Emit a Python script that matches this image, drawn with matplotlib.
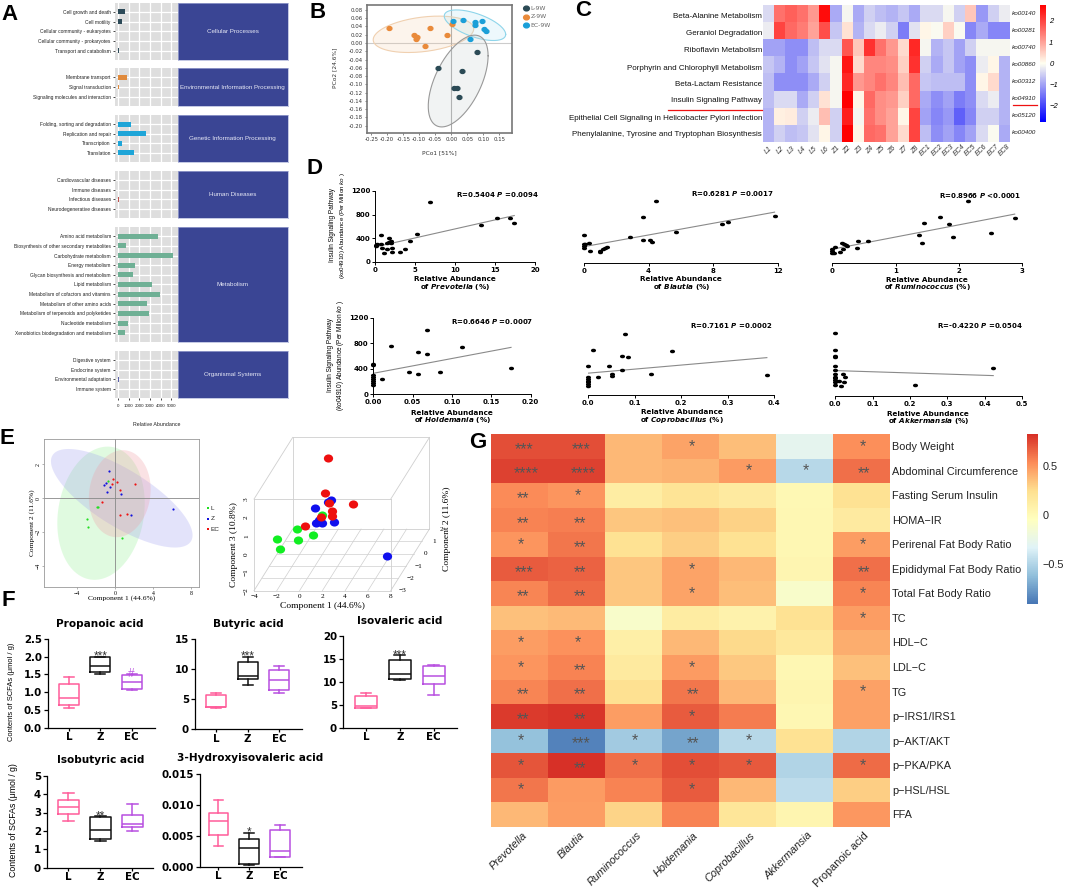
import numpy as np
import matplotlib
matplotlib.use("Agg")
import matplotlib.pyplot as plt
from matplotlib.colors import LinearSegmentedColormap
from matplotlib.markers import MarkerStyle
from matplotlib.transforms import Affine2D

plt.rcParams['font.family'] = ['Liberation Sans', 'DejaVu Sans']
plt.rcParams['mathtext.fontset'] = 'custom'
plt.rcParams['mathtext.rm'] = 'Liberation Sans'
plt.rcParams['mathtext.it'] = 'Liberation Sans:italic'
plt.rcParams['mathtext.bf'] = 'DejaVu Sans:bold'
plt.rcParams['mathtext.bfit'] = 'DejaVu Sans:italic:bold'

WIDE = ['DejaVu Sans']
SERIF = ['Liberation Serif']

W, H = 1065, 890

# panel A
a_facets = ["Cellular Processes", "Environmental Information Processing", "Genetic Information Processing",
            "Human Diseases", "Metabolism", "Organismal Systems"]
a_labels = [
    ["Cell growth and death", "Cell motility", "Cellular community - eukaryotes", "Cellular community - prokaryotes", "Transport and catabolism"],
    ["Membrane transport", "Signal transduction", "Signaling molecules and interaction"],
    ["Folding, sorting and degradation", "Replication and repair", "Transcription", "Translation"],
    ["Cardiovascular diseases", "Immune diseases", "Infectious diseases", "Neurodegenerative diseases"],
    ["Amino acid metabolism", "Biosynthesis of other secondary metabolites", "Carbohydrate metabolism", "Energy metabolism",
     "Glycan biosynthesis and metabolism", "Lipid metabolism", "Metabolism of cofactors and vitamins",
     "Metabolism of other amino acids", "Metabolism of terpenoids and polyketides", "Nucleotide metabolism",
     "Xenobiotics biodegradation and metabolism"],
    ["Digestive system", "Endocrine system", "Environmental adaptation", "Immune system"],
]
a_values = [
    [660, 380, 0, 10, 60],
    [800, 100, 5],
    [1250, 2640, 380, 1460],
    [5, 5, 80, 5],
    [3800, 700, 5200, 1620, 1400, 3160, 3980, 2720, 2900, 900, 680],
    [5, 5, 60, 5],
]
a_colors = ["#2c4a58", "#e08a3c", "#1ea5d8", "#c0504d", "#6fb095", "#5a5fa8"]
a_boxes = [(2.7, 60), (68, 106), (115, 162), (171, 218), (227, 342), (351, 398)]

# panel B
b_l_x = [0.081, -0.043, 0.032, 0.009, 0.017, 0.024]
b_l_y = [-0.0226, -0.06, -0.068, -0.108, -0.11, -0.131]
b_z_x = [-0.196, -0.065, -0.116, -0.108, -0.111, -0.081, -0.0125, 0.001]
b_z_y = [0.0355, 0.037, 0.02, 0.015, 0.009, -0.0065, 0.02, 0.047]
b_ec_x = [0.006, 0.0375, 0.074, 0.074, 0.097, 0.103, 0.108, 0.057]
b_ec_y = [0.054, 0.055, 0.05, 0.043, 0.052, 0.035, 0.029, 0.01]

# panel C
c_rows = ["Beta-Alanine Metabolism", "Geraniol Degradation", "Riboflavin Metabolism", "Porphyrin and Chlorophyll Metabolism",
          "Beta-Lactam Resistance", "Insulin Signaling Pathway", "Epithelial Cell Signaling in Helicobacter Pylori Infection",
          "Phenylalanine, Tyrosine and Tryptophan Biosynthesis"]
c_kos = ["ko00140", "ko00281", "ko00740", "ko00860", "ko00312", "ko04910", "ko05120", "ko00400"]
c_cols = ["L1", "L2", "L3", "L4", "L5", "L6", "Z1", "Z2", "Z3", "Z4", "Z5", "Z6", "Z7", "Z8",
          "EC1", "EC2", "EC3", "EC4", "EC5", "EC6", "EC7", "EC8"]
c_values = [
    [-0.4, 1.5, 1.7, 1.5, 1.1, 2.6, -0.9, -0.1, -0.9, -0.5, -0.7, -0.8, -0.6, -0.9, -0.4, -0.4, -0.1, -0.5, 0.6, -1.1, -0.5, -0.2],
    [-0.2, 2.0, 1.6, 1.4, 1.0, 1.9, -0.6, 0.3, -0.8, -0.4, -0.2, -0.5, -1.4, -0.3, 0.1, -0.05, 0.5, -0.05, -1.3, -0.9, -1.3, -1.3],
    [-1.0, -1.0, -1.2, -1.2, -0.7, -0.4, -0.4, 1.8, 0.6, 2.2, 1.5, 1.1, 0.4, 2.3, -0.1, -0.8, -0.6, -1.0, -0.5, -0.1, -0.1, -0.1],
    [-0.6, -0.8, -1.2, -1.0, -0.6, -0.3, -0.1, 2.5, 0.4, 1.3, 1.3, 1.2, 0.5, 2.2, -0.5, -0.9, -0.6, -1.0, -1.2, -0.2, 0.1, -0.8],
    [-0.7, -1.2, -1.2, -1.2, -0.9, -0.5, -0.1, 2.3, 1.1, 1.3, 1.5, 1.3, 0.7, 1.6, -0.6, -0.7, -0.7, -0.7, -1.2, 0.1, 0.4, -0.8],
    [-0.7, -0.4, -0.4, -0.9, -0.5, 0.3, -0.1, 2.7, 0.1, 1.6, 1.2, 1.1, 0.5, 1.6, -0.9, -1.2, -1.0, -1.4, -1.2, -0.4, -0.2, -0.8],
    [-0.8, 0.15, 0.2, -0.5, -0.2, 0.7, -0.5, 2.4, -0.1, 1.5, 1.2, 1.0, 0.1, 2.0, -1.0, -1.3, -1.1, -1.7, -1.3, -0.5, -0.5, -0.8],
    [-0.8, -0.5, -0.7, -0.6, -0.3, 0.1, -0.5, 2.7, 0.1, 1.6, 1.5, 1.0, 0.4, 2.0, -0.7, -1.2, -1.0, -1.3, -1.0, -0.4, -0.05, -0.9],
]

# panel D
d1_x = [0.04, .08, .25, .67, .75, .79, 1.04, 1.46, 1.46, 1.67, 1.75, 1.92, 2.0, 2.12, 2.12, 3.05, 3.67, 4.38, 5.26, 6.85, 13.24, 15.24, 16.87, 17.4]
d1_y = [272, 294, 311, 453, 300, 238, 153, 317, 221, 413, 340, 357, 323, 243, 164, 176, 221, 357, 481, 1013, 628, 747, 736, 651]
d2_x = [0, 0, .02, .02, .08, .31, .41, 1.01, 1.03, 1.17, 1.33, 1.44, 2.84, 3.68, 3.64, 4.11, 4.23, 4.45, 5.72, 8.55, 8.92, 11.77]
d2_y = [464, 317, 283, 243, 317, 328, 187, 187, 170, 232, 249, 255, 430, 373, 758, 373, 340, 1035, 504, 651, 679, 775]
d3_x = [0, 0, .02, 0, .05, .12, .15, .17, .19, .21, .23, .39, .41, .57, 1.37, 1.41, 1.44, 1.70, 1.84, 1.91, 2.15, 2.51, 2.88]
d3_y = [175, 204, 170, 238, 266, 187, 328, 238, 311, 294, 277, 255, 368, 368, 470, 340, 673, 770, 645, 430, 1035, 498, 753]
d4_x = [0, 0, 0, 0, 0, 0, 0, 0, .011, .0225, .045, .0564, .0564, .0678, .0678, .0843, .1127, .1746]
d4_y = [480, 459, 303, 266, 235, 214, 172, 146, 235, 751, 355, 657, 323, 626, 1012, 355, 736, 412]
d5_x = [0, 0, 0, 0, 0, 0, 0, .011, .0215, .0444, .0502, .0502, .0724, .0731, .0781, .0846, .1348, .1806, .384]
d5_y = [454, 277, 250, 224, 198, 172, 146, 710, 292, 454, 339, 303, 391, 616, 960, 595, 339, 699, 308]
d6_x = [0, 0, 0, 0, 0, 0, 0, 0, 0, 0, 0, 0, .0214, .0268, .0223, .0161, .0098, .2134, .4232]
d6_y = [981, 720, 631, 615, 469, 402, 339, 303, 277, 250, 224, 167, 350, 297, 224, 151, 240, 172, 443]
d_fit_x = [[0, 17.4], [0, 11.77], [0, 2.88], [0, .175], [0, .384], [0, .423]]
d_fit_y = [[255, 785], [265, 845], [230, 815], [329, 735], [345, 590], [396, 318]]
d_xticks = [[0, 5, 10, 15, 20], [0, 4, 8, 12], [0, 1, 2, 3],
            [0, .05, .10, .15, .20], [0, .1, .2, .3, .4], [0, .1, .2, .3, .4, .5]]
d_xticklabels = [["0", "5", "10", "15", "20"], ["0", "4", "8", "12"], ["0", "1", "2", "3"],
                 ["0.00", "0.05", "0.10", "0.15", "0.20"], ["0.0", "0.1", "0.2", "0.3", "0.4"],
                 ["0.0", "0.1", "0.2", "0.3", "0.4", "0.5"]]
d_genus = ["Prevotella", "Blautia", "Ruminococcus", "Holdemania", "Coprobacillus", "Akkermansia"]
d_stats = [("R=0.5404", "=0.0094"), ("R=0.6281", "=0.0017"), ("R=0.8966", "<0.0001"),
           ("R=0.6646", "=0.0007"), ("R=0.7161", "=0.0002"), ("R=-0.4220", "=0.0504")]

# panel E
e_l_x = [-.81, -1.89, -1.79, -2.95, -2.88, .67]
e_l_y = [1.04, -.53, -.53, -1.24, -1.69, -2.31]
e_l_z = [-.59, -.32, -.90, -.91, -.05, .57]
e_z_x = [-.63, -.95, -1.19, -.53, -.84, .56, 1.65, 6.04]
e_z_y = [1.61, .92, .78, .69, .35, .25, -.96, -.61]
e_z_z = [-.28, -.78, -.02, -.79, -.54, .76, .37, -1.74]
e_ec_x = [-.28, .21, -.35, 2.07, .49, -1.4, .53, 1.19]
e_ec_y = [1.14, .94, .82, .86, .49, -.24, -.96, -.92]
e_ec_z = [2.45, -.31, .74, .15, -.26, -.35, .67, 1.36]

# panel F, each group is low whisker, q1, median, q3, high whisker
f_names = ["Propanoic acid", "Butyric acid", "Isovaleric acid", "Isobutyric acid", "3-Hydroxyisovaleric acid"]
f_groups = ["L", "Z", "EC"]
propanoic = [[.55, .63, .83, 1.22, 1.42], [1.5, 1.57, 1.74, 1.98, 2.0], [1.07, 1.1, 1.3, 1.49, 1.5]]
butyric = [[3.6, 3.7, 3.8, 5.8, 6.1], [7.4, 8.4, 8.9, 11.2, 12], [6, 6.5, 8.2, 9.9, 10.5]]
isovaleric = [[4.3, 4.4, 4.7, 6.9, 7.7], [10.4, 10.6, 11.7, 14.9, 15.9], [7.1, 9.5, 11.4, 13.4, 13.8]]
isobutyric = [[2.55, 2.9, 3.3, 3.7, 4.05], [1.45, 1.55, 2.05, 2.75, 2.8], [2, 2.2, 2.4, 2.85, 3.45]]
hydroxy = [[.0034, .0051, .0073, .0087, .0108], [.0002, .0005, .003, .0044, .0055], [.0015, .0016, .0026, .006, .0068]]
f_colors = ["#ff5c9a", "#111111", "#b84fe0"]

# panel G
g_rows = ["Body Weight", "Abdominal Circumference", "Fasting Serum Insulin", "HOMA\u2212IR", "Perirenal Fat Body Ratio",
          "Epididymal Fat Body Ratio", "Total Fat Body Ratio", "TC", "HDL\u2212C", "LDL\u2212C", "TG", "p\u2212IRS1/IRS1",
          "p\u2212AKT/AKT", "p\u2212PKA/PKA", "p\u2212HSL/HSL", "FFA"]
g_cols = ["Prevotella", "Blautia", "Ruminococcus", "Holdemania", "Coprobacillus", "Akkermansia", "Propanoic acid"]
g_values = [
    [.72, .72, .38, .45, .36, -.28, .52],
    [.76, .76, .38, .40, .48, -.48, .62],
    [.53, .50, .12, .20, .14, .02, .22],
    [.56, .57, .33, .35, .29, .03, .14],
    [.50, .60, .22, .30, .22, .03, .47],
    [.68, .66, .33, .45, .38, .04, .62],
    [.55, .63, .33, .45, .36, -.1, .55],
    [.35, .37, -.1, .13, .07, .22, .47],
    [.47, .51, .1, .38, .26, .17, .42],
    [.50, .56, .15, .48, .32, .03, .35],
    [.55, .62, .23, .60, .38, .05, .46],
    [.78, .80, .47, .68, .58, .03, .46],
    [-.6, -.85, -.55, -.72, -.48, .22, -.5],
    [.7, .83, .62, .72, .69, -.5, .63],
    [.6, .48, .56, .68, .38, -.45, .3],
    [.38, .47, .28, .56, .18, .05, .49],
]
g_stars = [
    ["***", "***", "", "*", "", "", "*"],
    ["****", "****", "", "", "*", "*", "**"],
    ["**", "*", "", "", "", "", ""],
    ["**", "**", "", "", "", "", ""],
    ["*", "**", "", "", "", "", "*"],
    ["***", "**", "", "*", "", "", "**"],
    ["**", "**", "", "*", "", "", "*"],
    ["", "", "", "", "", "", "*"],
    ["*", "*", "", "", "", "", ""],
    ["*", "**", "", "*", "", "", ""],
    ["**", "**", "", "**", "", "", "*"],
    ["**", "**", "", "*", "", "", ""],
    ["*", "***", "*", "**", "*", "", ""],
    ["*", "**", "*", "*", "*", "", "*"],
    ["*", "", "", "*", "", "", ""],
    ["", "", "", "", "", "", ""],
]


def ax_px(x0, y0, x1, y1, **kw):
    return fig.add_axes([x0 / W, 1 - y1 / H, (x1 - x0) / W, (y1 - y0) / H], **kw)


def tilted_ellipse(ax, cx, cy, rx, ry, rho, fc, ec, alpha):
    t = np.linspace(0, 2 * np.pi, 200)
    x = cx + rx * np.cos(t)
    y = cy + ry * (rho * np.cos(t) + np.sqrt(1 - rho ** 2) * np.sin(t))
    ax.fill(x, y, facecolor=fc, edgecolor='none', alpha=alpha, zorder=1)
    ax.plot(x, y, color=ec, lw=0.8, zorder=1)


fig = plt.figure(figsize=(W / 100, H / 100), dpi=100)
page = ax_px(0, 0, W, H, zorder=20)
page.set_xlim(0, W)
page.set_ylim(H, 0)
page.axis('off')


def px_text(x, y, s, **kw):
    kw.setdefault('ha', 'center')
    kw.setdefault('va', 'center')
    page.text(x, y, s, **kw)


for letter, x, y in [("A", 10, 14), ("B", 318, 12), ("C", 583, 11), ("D", 315, 169),
                     ("E", 7, 438), ("F", 8, 600), ("G", 478, 443)]:
    px_text(x, y, letter, fontsize=16, fontweight='bold')

# A
for i, (y0, y1) in enumerate(a_boxes):
    ax = ax_px(115, y0, 177.5, y1, facecolor="#dedede")
    n = len(a_labels[i])
    ax.barh(range(n), a_values[i], height=0.5, color=a_colors[i], zorder=3)
    ax.set_ylim(n - 1 + 0.95, -0.95)
    ax.set_xlim(-300, 5600)
    ax.set_xticks([0, 1000, 2000, 3000, 4000, 5000])
    ax.grid(color='white', lw=0.9, zorder=1)
    ax.set_axisbelow(True)
    for s in ax.spines.values():
        s.set_visible(False)
    ax.set_yticks(range(n))
    ax.set_yticklabels(a_labels[i], fontsize=3.5, color="#222222")
    ax.tick_params(axis='y', length=1.5, width=0.5, pad=1.5)
    if i == len(a_boxes) - 1:
        ax.set_xticklabels(["0", "1000", "2000", "3000", "4000", "5000"], fontsize=3.2, color="#222222")
        ax.tick_params(axis='x', length=1.5, width=0.5, pad=3)
    else:
        ax.tick_params(axis='x', length=0, labelbottom=False)
    strip = ax_px(178, y0, 287.5, y1, facecolor="#3a4594")
    strip.set_xticks([])
    strip.set_yticks([])
    for s in strip.spines.values():
        s.set_color("#aab0d8")
        s.set_linewidth(0.5)
    strip.text(0.5, 0.5, a_facets[i], transform=strip.transAxes, ha='center', va='center',
               color="#e6e8f5", fontsize=4.5)
px_text(157, 424, "Relative Abundance", fontsize=3.8, color="#222222")

# B
ax = ax_px(367, 5, 512, 133)
ax.set_xlim(-0.2634, 0.1897)
ax.set_ylim(-0.2177, 0.0919)
ax.axhline(0, color="#cccccc", lw=0.8, zorder=0)
ax.axvline(0, color="#aaaaaa", lw=0.8, zorder=0)
tilted_ellipse(ax, -0.087, 0.021, 0.157, 0.044, 0.3, "#f3c9a0", "#f0d0b0", 0.2)
tilted_ellipse(ax, 0.074, 0.043, 0.096, 0.037, -0.6, "#a8e0f0", "#8fd5ea", 0.2)
tilted_ellipse(ax, 0.0215, -0.092, 0.0935, 0.111, 0.55, "#c8d0d0", "#999999", 0.25)
cL, cZ, cEC = "#2b4a55", "#e98a3a", "#1a9fd8"
ell_marker = MarkerStyle('o', transform=Affine2D().scale(1.15, 0.95))
ax.scatter(b_l_x, b_l_y, s=9, color=cL, marker=ell_marker, zorder=3, label="L-9W")
ax.scatter(b_z_x, b_z_y, s=9, color=cZ, marker=ell_marker, zorder=3, label="Z-9W")
ax.scatter(b_ec_x, b_ec_y, s=9, color=cEC, marker=ell_marker, zorder=3, label="EC-9W")
ax.set_xticks(np.arange(-0.25, 0.16, 0.05))
ax.set_xticklabels(["-0.25", "-0.20", "-0.15", "-0.10", "-0.05", "0.00", "0.05", "0.10", "0.15"],
                   family=WIDE, fontsize=3.9, color="#333333")
ax.set_yticks(np.arange(-0.20, 0.09, 0.02))
ax.set_yticklabels(["-0.20", "-0.18", "-0.16", "-0.14", "-0.12", "-0.10", "-0.08", "-0.06", "-0.04", "-0.02",
                    "0.00", "0.02", "0.04", "0.06", "0.08"], family=WIDE, fontsize=3.9, color="#333333")
ax.tick_params(length=1.5, width=0.5, pad=1.5, color="#555555")
for s in ax.spines.values():
    s.set_color("#777777")
    s.set_linewidth(1.2)
ax.legend(loc='upper left', bbox_to_anchor=(1.055, 1.02), frameon=False, prop={'family': WIDE, 'size': 4.4},
          labelcolor="#666666", handletextpad=0.2, labelspacing=0.55, borderpad=0, handlelength=1.0, markerscale=1.2)
px_text(439.7, 152.7, "PCo1 [51%]", family=WIDE, fontsize=4.2, color="#333333")
px_text(334.7, 68, "PCo2 [24.6%]", family=WIDE, fontsize=4.2, color="#333333", rotation=90)

# C
ax = ax_px(763.3, 5, 1010, 141.7)
cmap_c = LinearSegmentedColormap.from_list("c", ["#0000ff", "#fffff0", "#ff0000"])
im = ax.imshow(c_values, cmap=cmap_c, vmin=-2.74, vmax=2.74, aspect='auto', interpolation='nearest')
ax.set_xticks([])
ax.set_yticks([])
for s in ax.spines.values():
    s.set_visible(False)
c_label_y = [17, 33.5, 51, 68, 84, 101, 118, 135]
for name, y in zip(c_rows, c_label_y):
    px_text(762, y, name, ha='right', fontsize=5.8, color="#111111")
for i, ko in enumerate(c_kos):
    px_text(1012, 13.5 + 17.03 * i, ko, ha='left', fontsize=4.6, style='italic', color="#222222")
for i, col in enumerate(c_cols):
    ax.text(i, 8.0, col, rotation=45, ha='center', va='center', fontsize=5, style='italic', color="#333333", clip_on=False)
page.plot([668, 762], [110, 110], color="#ee1111", lw=0.9)
page.plot([1012.7, 1036.7], [105, 105], color="#ee1111", lw=0.9)
cax = ax_px(1040, 5, 1045.7, 121.7)
cb = fig.colorbar(im, cax=cax)
cb.outline.set_visible(False)
cb.set_ticks([-2, -1, 0, 1, 2])
cb.ax.tick_params(length=0, pad=2.5, labelsize=5.5)
for lab in cb.ax.get_yticklabels():
    lab.set_style('italic')

# D
d_boxes = [(375.3, 191, 535, 262), (583.7, 191, 778.3, 262.5), (832.3, 191, 1022.3, 263),
           (373.3, 317.7, 530.7, 394.3), (588.3, 319, 774.3, 395), (835.3, 319, 1022, 396)]
d_data = [(d1_x, d1_y), (d2_x, d2_y), (d3_x, d3_y), (d4_x, d4_y), (d5_x, d5_y), (d6_x, d6_y)]
d_stat_pos = [(497.7, 194.7), (732, 194), (980, 195.7), (492, 321), (731, 325.7), (980, 325.7)]
d_label_pos = [(455, 279), (681, 279), (926.7, 280), (451.7, 413), (681.7, 412.5), (928, 413.7)]
dot = MarkerStyle('o', transform=Affine2D().scale(1.3, 0.9))
for i, box in enumerate(d_boxes):
    ax = ax_px(*box, facecolor='none')
    ax.plot(d_fit_x[i], d_fit_y[i], color="#8a8a8a", lw=0.8, zorder=2)
    ax.scatter(d_data[i][0], d_data[i][1], s=8, color='black', marker=dot, clip_on=False, zorder=3, linewidths=0)
    ax.set_xlim(d_xticks[i][0], d_xticks[i][-1])
    ax.set_ylim(0, 1200)
    ax.set_xticks(d_xticks[i])
    ax.set_xticklabels(d_xticklabels[i], family=WIDE, fontweight='bold', fontsize=5)
    ax.spines['top'].set_visible(False)
    ax.spines['right'].set_visible(False)
    ax.spines['bottom'].set_linewidth(0.7)
    ax.spines['left'].set_linewidth(0.7)
    if i in (0, 3):
        ax.set_yticks([0, 400, 800, 1200])
        ax.set_yticklabels(["0", "400", "800", "1200"], family=WIDE, fontweight='bold', fontsize=5)
    else:
        ax.spines['left'].set_visible(False)
        ax.set_yticks([])
    ax.tick_params(length=2.2, width=0.7, pad=1.5)
    r_txt, p_txt = d_stats[i]
    px_text(*d_stat_pos[i], r_txt + r" $\mathbfit{P}$ " + p_txt, family=WIDE, fontweight='bold', fontsize=5)
    lx, ly = d_label_pos[i]
    px_text(lx, ly, "Relative Abundance", family=WIDE, fontweight='bold', fontsize=5.2)
    px_text(lx + 0.5, ly + 7.3, "of $\\mathbfit{" + d_genus[i] + "}$ (%)", family=WIDE, fontweight='bold', fontsize=5.2)
px_text(332, 225, "Insulin Signaling Pathway", rotation=90, fontsize=4.7)
px_text(342.7, 226, "($\\mathit{ko04910}$) Abundance (Per Millon $\\mathit{ko}$ )", rotation=90, fontsize=4.5)
px_text(330.7, 355, "Insulin Signaling Pathway", rotation=90, fontsize=4.7)
px_text(341, 355, "($\\mathit{ko04910}$) Abundance (Per Millon $\\mathit{ko}$ )", rotation=90, fontsize=4.7)

# E left
ax = ax_px(44.3, 439.3, 199.3, 587.3)
ax.set_xlim(-7.47, 8.84)
ax.set_ylim(-5.24, 3.47)
tilted_ellipse(ax, -1.5, -.88, 4.6, 3.92, 0.15, "#8ff08f", "none", 0.27)
tilted_ellipse(ax, .68, 0, 7.45, 2.9, -0.75, "#9a9af0", "none", 0.27)
tilted_ellipse(ax, .47, .27, 3.25, 2.56, 0.1, "#f0a0a8", "none", 0.3)
ax.axhline(0, color="#888888", lw=0.6, zorder=2)
ax.axvline(0, color="#888888", lw=0.6, zorder=2)
ax.scatter(e_l_x, e_l_y, s=2.5, color="#22dd22", zorder=3, linewidths=0)
ax.scatter(e_z_x, e_z_y, s=2.5, color="#1111dd", zorder=3, linewidths=0)
ax.scatter(e_ec_x, e_ec_y, s=2.5, color="#ee1111", zorder=3, linewidths=0)
ax.set_xticks([-4, 0, 4, 8])
ax.set_yticks([-4, -2, 0, 2])
ax.set_xticklabels(["\u22124", "0", "4", "8"], family=SERIF, fontsize=4.2)
ax.set_yticklabels(["\u22124", "\u22122", "0", "2"], family=SERIF, fontsize=4.2, rotation=90, va='center')
ax.tick_params(length=1.5, width=0.4, pad=1, color="#777777")
for s in ax.spines.values():
    s.set_color("#999999")
    s.set_linewidth(0.6)
px_text(121.7, 598, "Component 1 (44.6%)", family=SERIF, fontsize=5.4)
px_text(32.3, 523, "Component 2 (11.6%)", family=SERIF, fontsize=5.4, rotation=90)
for name, color, y in [("L", "#22dd22", 508), ("Z", "#1111dd", 518.7), ("EC", "#ee1111", 529.3)]:
    page.plot([207.7], [y], 's', ms=1.6, color=color, mew=0)
    px_text(210.5, y, name, ha='left', fontsize=4.6, color="#222222")

# E right, oblique view of the three components
k_x, k_z = 0.679, 0.673


def oblique(x, y, z):
    x, y, z = np.asarray(x, float), np.asarray(y, float), np.asarray(z, float)
    return x + (y + 3) * k_x, z + (y + 3) * k_z


ax = ax_px(240, 430, 450, 600, facecolor='none')
ax.set_xlim(-5.23, 13.2)
ax.set_ylim(-2.51, 6.77)
ax.axis('off')
wire = "#cfcfcf"
edges = [((-4, -3, -2), (8, -3, -2)), ((-4, -3, 3), (8, -3, 3)), ((-4, -3, -2), (-4, -3, 3)), ((8, -3, -2), (8, -3, 3)),
         ((-4, 2, -2), (8, 2, -2)), ((-4, 2, 3), (8, 2, 3)), ((-4, 2, -2), (-4, 2, 3)), ((8, 2, -2), (8, 2, 3)),
         ((-4, -3, -2), (-4, 2, -2)), ((8, -3, -2), (8, 2, -2)), ((-4, -3, 3), (-4, 2, 3)), ((8, -3, 3), (8, 2, 3))]
for p0, p1 in edges:
    sx, sz = oblique(*zip(p0, p1))
    ax.plot(sx, sz, color=wire, lw=0.6, zorder=1)
for t in [-2, 0, 2, 4, 6]:
    sx, sz = oblique([t, t], [-3, 2], [-2, -2])
    ax.plot(sx, sz, color=wire, lw=0.5, zorder=1)
for t in [-2, -1, 0, 1]:
    sx, sz = oblique([-4, 8], [t, t], [-2, -2])
    ax.plot(sx, sz, color=wire, lw=0.5, zorder=1)
for xs, ys, zs, color in [(e_l_x, e_l_y, e_l_z, "#11ee22"), (e_z_x, e_z_y, e_z_z, "#1010ee"), (e_ec_x, e_ec_y, e_ec_z, "#ee0f0f")]:
    sx, sz = oblique(xs, ys, zs)
    ax.scatter(sx, sz, s=38, color=color, marker=MarkerStyle('o', transform=Affine2D().scale(1.08, 0.95)), zorder=3, linewidths=0)
for t in [-4, -2, 0, 2, 4, 6, 8]:
    sx, sz = oblique(t, -3, -2)
    ax.text(sx, sz - 0.33, str(t).replace("-", "\u2212"), ha='center', va='center', family=SERIF, fontsize=5.2, clip_on=False)
for t in [-3, -2, -1, 0, 1, 2]:
    sx, sz = oblique(8, t, -2)
    ax.text(sx + 1.05, sz, str(t).replace("-", "\u2212"), ha='center', va='center', family=SERIF, fontsize=5.2, clip_on=False)
for t in [-2, -1, 0, 1, 2, 3]:
    sx, sz = oblique(-4, -3, t)
    ax.text(sx - 0.65, sz, str(t).replace("-", "\u2212"), ha='center', va='center', family=SERIF, fontsize=5.2, rotation=90, clip_on=False)
px_text(322.7, 606, "Component 1 (44.6%)", family=SERIF, fontsize=6.8)
px_text(234.3, 545, "Component 3 (10.8%)", family=SERIF, fontsize=6.8, rotation=90)
px_text(447.3, 529, "Component 2 (11.6%)", family=SERIF, fontsize=6.8, rotation=90)

# F
f_data = [propanoic, butyric, isovaleric, isobutyric, hydroxy]
f_boxes = [(48.3, 639, 155, 727.7), (195.3, 639.3, 301.7, 729.3), (343.3, 636.3, 456.7, 727.7),
           (47.3, 775.7, 153.3, 867.7), (200, 773.7, 301.7, 866.7)]
f_ylims = [2.5, 15, 20, 5, 0.015]
f_yticks = [[0, .5, 1, 1.5, 2, 2.5], [0, 5, 10, 15], [0, 5, 10, 15, 20], [0, 1, 2, 3, 4, 5], [0, .005, .01, .015]]
f_yticklabels = [["0.0", "0.5", "1.0", "1.5", "2.0", "2.5"], ["0", "5", "10", "15"], ["0", "5", "10", "15", "20"],
                 ["0", "1", "2", "3", "4", "5"], ["0.000", "0.005", "0.010", "0.015"]]
f_xlims = [(-.67, 2.75), (-.67, 2.72), (-.67, 2.68), (-.66, 2.65), (-.6, 2.7)]
f_title_pos = [(100, 624), (248.3, 624), (399.3, 621), (101, 760), (250, 758)]
f_marks = [[("***", 1, 2.11, "#333333"), ("#", 2, 1.6, "#b84fe0")], [("***", 1, 12.8, "#333333")],
           [("***", 1, 16.5, "#333333")], [("**", 1, 3.0, "#333333")], [("*", 1, .0061, "#333333")]]
for i, box in enumerate(f_boxes):
    ax = ax_px(*box, facecolor='none')
    for j, vals in enumerate(f_data[i]):
        stats = [{'whislo': vals[0], 'q1': vals[1], 'med': vals[2], 'q3': vals[3], 'whishi': vals[4], 'fliers': []}]
        props = {'color': f_colors[j], 'linewidth': 1.1}
        ax.bxp(stats, positions=[j], widths=0.64, capwidths=0.32, showfliers=False, boxprops=props, medianprops=props,
               whiskerprops=props, capprops=props)
    ax.set_xlim(*f_xlims[i])
    ax.set_ylim(0, f_ylims[i])
    ax.set_xticks([0, 1, 2])
    ax.set_xticklabels(f_groups, family=WIDE, fontweight='bold', fontsize=7.4)
    ax.set_yticks(f_yticks[i])
    ax.set_yticklabels(f_yticklabels[i], family=WIDE, fontweight='bold', fontsize=7.4)
    ax.tick_params(axis='x', length=2.5, width=0.9, pad=0.8)
    ax.tick_params(axis='y', length=3, width=0.9, pad=1.5)
    ax.spines['top'].set_visible(False)
    ax.spines['right'].set_visible(False)
    ax.spines['left'].set_linewidth(0.9)
    ax.spines['bottom'].set_linewidth(0.9)
    for s, x, v, c in f_marks[i]:
        ax.annotate(s, (x, v), xytext=(0, -2.5), textcoords='offset points', ha='center', va='center', fontsize=8.5, color=c)
    tx, ty = f_title_pos[i]
    px_text(tx, ty, f_names[i], family=WIDE, fontweight='bold', fontsize=7.6)
px_text(11.7, 692, "Contents of SCFAs (\u03bcmol / g)", rotation=90, fontsize=5.4)
px_text(14, 820, "Contents of SCFAs (\u03bcmol / g)", rotation=90, fontsize=6.3)

# G
ax = ax_px(491, 434.3, 889.3, 826.7)
cmap_g = LinearSegmentedColormap.from_list("g", ["#4575b4", "#91bfdb", "#e0f3f8", "#ffffbf", "#fee090", "#fc8d59", "#d73027"])
im = ax.imshow(g_values, cmap=cmap_g, vmin=-.906, vmax=.818, aspect='auto', interpolation='nearest')
ax.set_xticks([])
ax.set_yticks([])
for s in ax.spines.values():
    s.set_visible(False)
dx_by_n = {1: 1.6, 2: 3.2, 3: 5, 4: 6.7}
dy_by_n = {1: -2, 2: 1, 3: 1, 4: 1}
for r, row in enumerate(g_stars):
    for c, stars in enumerate(row):
        if stars:
            n = len(stars)
            # the asterisk sits high in its line, so the baseline goes below the cell centre
            ax.text(c + dx_by_n[n] / 56.9, r + (dy_by_n[n] + 6.5) / 24.5, stars, ha='center', va='baseline',
                    fontsize=11.5, color="#555555")
for r, name in enumerate(g_rows):
    ax.text(6.55, r + 0.03, name, ha='left', va='center', fontsize=7.8, color="#222222", clip_on=False)
for c, name in enumerate(g_cols):
    style = 'normal' if name == "Propanoic acid" else 'italic'
    ax.text(c + 0.05, 15.65, name, rotation=45, ha='right', va='top', rotation_mode='anchor',
            fontsize=7.8, style=style, color="#222222", clip_on=False)
cax = ax_px(1027.3, 434.3, 1038, 604.3)
cb = fig.colorbar(im, cax=cax)
cb.outline.set_visible(False)
cb.set_ticks([-.5, 0, .5])
cb.set_ticklabels(["\u22120.5", "0", "0.5"])
cb.ax.tick_params(length=0, pad=3, labelsize=7.8, labelcolor="#222222")

fig.savefig("out.png", dpi=100)
